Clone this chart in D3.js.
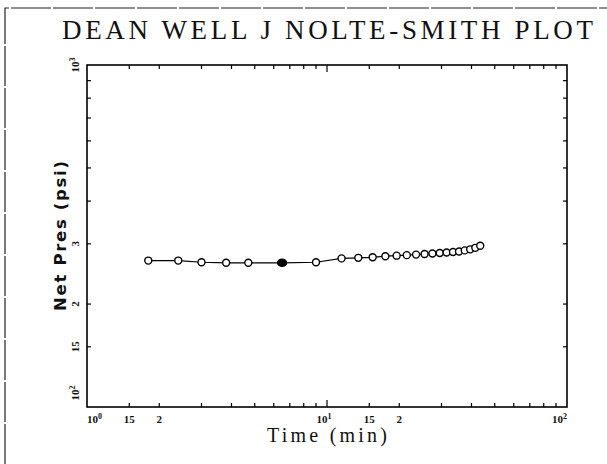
<!DOCTYPE html>
<html>
<head>
<meta charset="utf-8">
<script src="https://cdn.jsdelivr.net/npm/d3@7"></script>
<style>
  body { margin: 0; background: #fff; }
  svg { display: block; }
  .frame { fill: none; stroke: #000; stroke-width: 1.6; }
  .tick { stroke: #000; stroke-width: 1.2; }
  .tick_label { font-family: "Liberation Serif", serif; font-weight: bold; font-size: 11px; fill: #111; }
  .series_line { fill: none; stroke: #000; stroke-width: 1.2; }
  .marker { fill: #fff; stroke: #000; stroke-width: 1.4; }
</style>
</head>
<body>
<div id="chart"></div>
<script>
// Net pressure vs time
var times   = [1.8, 2.4, 3.0, 3.8, 4.7, 6.5, 9.0, 11.5, 13.5, 15.5, 17.5, 19.5, 21.5, 23.5,
               25.5, 27.5, 29.5, 31.5, 33.5, 35.5, 37.5, 39.5, 41.5, 43.5]
var netPres = [268, 268, 265, 264, 264, 264, 265, 272, 273, 274, 276, 277, 278, 279,
               280, 281, 282, 283, 284, 285, 287, 289, 292, 296]
var filledTimes = [6.5]

var xTickVals  = [1, 1.5, 2, 10, 15, 20, 100]
var xTickText  = ["10^0", "15", "2", "10^1", "15", "2", "10^2"]
var yTickVals  = [100, 150, 200, 300, 1000]
var yTickText  = ["10^2", "15", "2", "3", "10^3"]
var xMinorVals = [1.5, 2, 3, 4, 5, 6, 7, 8, 9, 15, 20, 30, 40, 50, 60, 70, 80, 90]
var yMinorVals = [150, 200, 300, 400, 500, 600, 700, 800, 900]

var titleText = "DEAN WELL J NOLTE-SMITH PLOT"
var xLabel = "Time (min)"
var yLabel = "Net Pres (psi)"

var width = 607, height = 464
var plot = { left: 87, right: 567, top: 65, bottom: 407 }

var svg = d3.select("#chart").append("svg")
  .attr("width", width)
  .attr("height", height)

svg.append("rect")
  .attr("width", width)
  .attr("height", height)
  .attr("fill", "#fff")

// outer page border (scanned sheet edge)
svg.append("polyline")
  .attr("points", "5,464 5,8 607,8")
  .attr("fill", "none")
  .attr("stroke", "#222")
  .attr("stroke-width", 1.2)
  .attr("stroke-dasharray", "40,2")

var x = d3.scaleLog().domain([1, 100]).range([plot.left, plot.right])
var y = d3.scaleLog().domain([100, 1000]).range([plot.bottom, plot.top])

// title
svg.append("text")
  .attr("x", 62)
  .attr("y", 39)
  .attr("textLength", 531)
  .attr("lengthAdjust", "spacing")
  .style("font-family", "'Liberation Serif', serif")
  .style("font-size", "27px")
  .attr("fill", "#111")
  .text(titleText)

// plot frame
svg.append("rect")
  .attr("class", "frame")
  .attr("x", plot.left)
  .attr("y", plot.top)
  .attr("width", plot.right - plot.left)
  .attr("height", plot.bottom - plot.top)

// ticks, all pointing inward
var ticks_g = svg.append("g")
xMinorVals.forEach(function (v) {
  ticks_g.append("line").attr("class", "tick")
    .attr("x1", x(v)).attr("x2", x(v))
    .attr("y1", plot.bottom).attr("y2", plot.bottom - 4)
  ticks_g.append("line").attr("class", "tick")
    .attr("x1", x(v)).attr("x2", x(v))
    .attr("y1", plot.top).attr("y2", plot.top + 4)
})
;[10].forEach(function (v) {
  ticks_g.append("line").attr("class", "tick")
    .attr("x1", x(v)).attr("x2", x(v))
    .attr("y1", plot.bottom).attr("y2", plot.bottom - 7)
  ticks_g.append("line").attr("class", "tick")
    .attr("x1", x(v)).attr("x2", x(v))
    .attr("y1", plot.top).attr("y2", plot.top + 7)
})
yMinorVals.forEach(function (v) {
  ticks_g.append("line").attr("class", "tick")
    .attr("x1", plot.left).attr("x2", plot.left + 4)
    .attr("y1", y(v)).attr("y2", y(v))
  ticks_g.append("line").attr("class", "tick")
    .attr("x1", plot.right).attr("x2", plot.right - 4)
    .attr("y1", y(v)).attr("y2", y(v))
})

// tick labels: "10^1" becomes 10 with a raised 1
function writeTickText(sel, str) {
  var parts = str.split("^")
  sel.append("tspan").text(parts[0])
  if (parts.length > 1) {
    sel.append("tspan")
      .attr("dy", -4)
      .style("font-size", "8px")
      .text(parts[1])
  }
}

xTickVals.forEach(function (v, i) {
  var anchor = "middle", dx = 0
  if (i == 0) { anchor = "start"; dx = 0 }
  if (i == xTickVals.length - 1) { anchor = "end"; dx = 0 }
  if (xTickText[i].indexOf("^") >= 0 && anchor == "middle") dx = -3
  var t = svg.append("text")
    .attr("class", "tick_label")
    .attr("x", x(v) + dx)
    .attr("y", plot.bottom + 16)
    .attr("text-anchor", anchor)
  writeTickText(t, xTickText[i])
})

yTickVals.forEach(function (v, i) {
  var cy = y(v)
  if (v == 100) cy = cy - 14
  var t = svg.append("text")
    .attr("class", "tick_label")
    .attr("transform", "translate(79," + cy + ") rotate(-90)")
    .attr("text-anchor", "middle")
  writeTickText(t, yTickText[i])
})

// axis titles
svg.append("text")
  .attr("x", 267)
  .attr("y", 442)
  .attr("textLength", 120)
  .attr("lengthAdjust", "spacing")
  .style("font-family", "'Liberation Serif', serif")
  .style("font-size", "20px")
  .attr("fill", "#111")
  .text(xLabel)

svg.append("text")
  .attr("transform", "translate(66,311) rotate(-90)")
  .attr("textLength", 150)
  .attr("lengthAdjust", "spacing")
  .style("font-family", "'DejaVu Sans', sans-serif")
  .style("font-weight", "bold")
  .style("font-size", "16.5px")
  .attr("fill", "#111")
  .text(yLabel)

// series
var points = times.map(function (t, i) { return { t: t, p: netPres[i] } })

var line = d3.line()
  .x(function (d) { return x(d.t) })
  .y(function (d) { return y(d.p) })

svg.append("path")
  .datum(points)
  .attr("class", "series_line")
  .attr("d", line)

svg.append("g").selectAll("ellipse")
  .data(points)
  .enter().append("ellipse")
    .attr("class", "marker")
    .attr("cx", function (d) { return x(d.t) })
    .attr("cy", function (d) { return y(d.p) })
    .attr("rx", function (d) { return filledTimes.indexOf(d.t) >= 0 ? 4.5 : 3.5 })
    .attr("ry", 3.5)
    .style("fill", function (d) { return filledTimes.indexOf(d.t) >= 0 ? "#000" : "#fff" })
</script>
</body>
</html>
